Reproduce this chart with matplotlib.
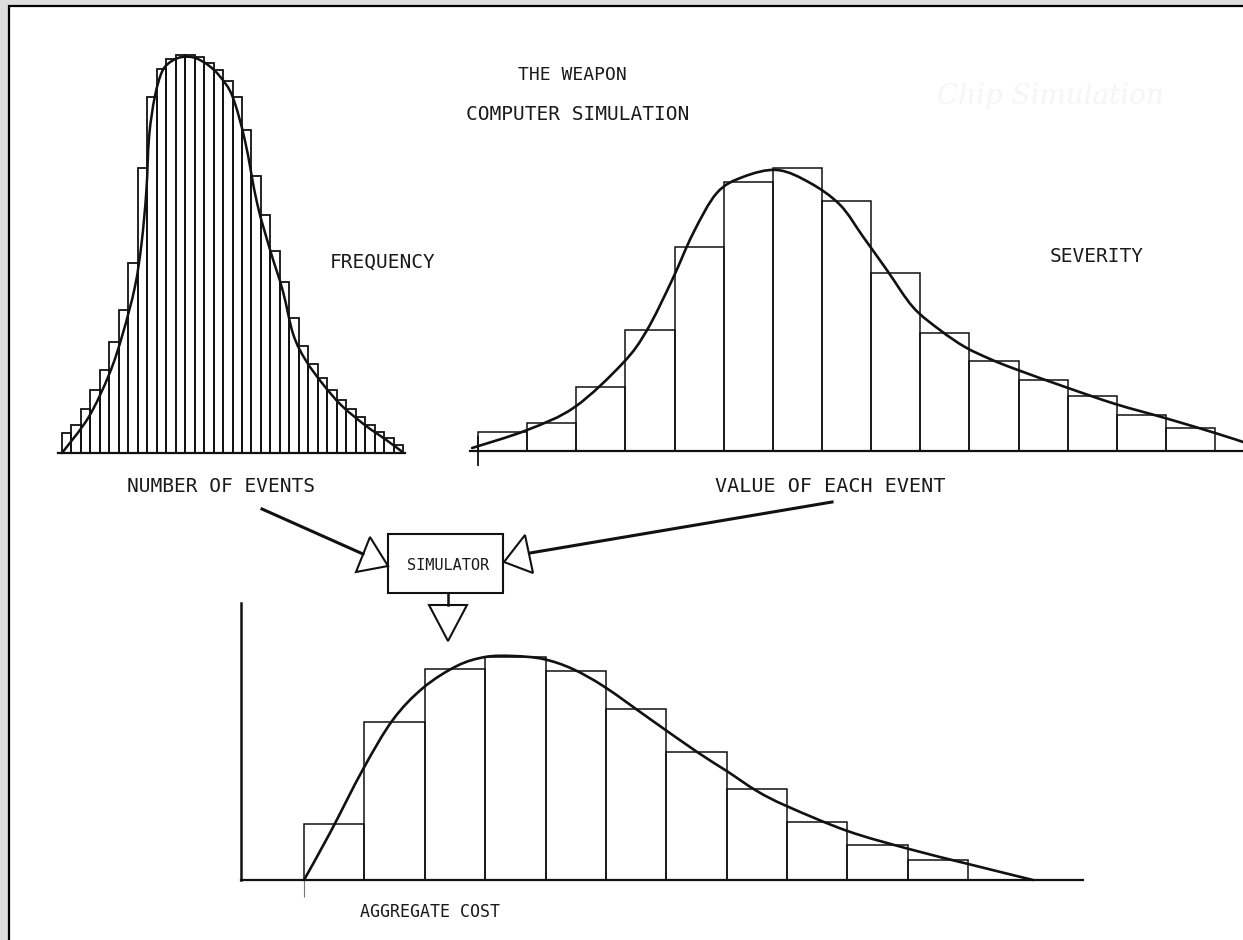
import numpy as np
import matplotlib
matplotlib.use("Agg")
import matplotlib.pyplot as plt
from matplotlib.patches import Rectangle, Polygon, PathPatch
from matplotlib.path import Path

W, H = 1243, 940
FONT = "DejaVu Sans Mono"
INK = "#111111"

# frequency histogram (number of events), heights relative to peak = 100
freq_bars = [5, 7, 11, 16, 21, 28, 36, 48, 72, 90, 97, 99.5, 100.5, 100.5, 100, 98.5,
             96.6, 94, 90, 81.5, 70, 60, 51, 43.3, 34, 27, 22.5, 19, 16, 13.4, 11, 9,
             7, 5.3, 3.7, 2]
freq_curve_x = [0, 2.8, 5.0, 6.4, 7.7, 8.4, 8.9, 9.2, 9.8, 10.6, 11.6, 12.7, 14.0, 15.4,
                16.7, 18.0, 19.3, 20.6, 22.0, 23.3, 24.4, 25.7, 27.5, 29.5, 32.0, 34.1, 35.8]
freq_curve_y = [0, 9, 20, 30, 42, 53, 66, 80, 90, 96.5, 99, 100, 99.8, 98, 95, 90, 79,
                63, 51, 41, 30, 23.5, 17.5, 12, 7, 3.5, 0.5]

# severity histogram (value of each event)
sev_bars = [19, 28, 64, 121, 204, 269, 283, 250, 178, 118, 90, 71, 55, 36, 23]
sev_curve_x = [-0.12, 1.0, 1.97, 2.95, 3.44, 3.95, 4.38, 4.86, 5.39, 6.09, 6.76, 7.37,
               7.84, 8.32, 8.85, 9.40, 9.91, 10.42, 10.93, 11.95, 12.97, 13.98, 15.0, 15.57]
sev_curve_y = [3, 21, 44, 88, 121, 171, 218, 258, 274, 281, 268, 246, 214, 181, 144,
               121, 104, 92, 82, 64, 47, 33, 18, 9]

# aggregate cost histogram
agg_bars = [56, 158, 211, 223, 209, 171, 128, 91, 58, 35, 20]
agg_curve_x = [0, 0.43, 0.98, 1.47, 1.97, 2.53, 3.0, 3.46, 3.96, 4.45, 4.98, 5.73, 6.51,
               7.0, 7.5, 7.99, 9.0, 10.02, 11.0, 12.07]
agg_curve_y = [0, 47, 111, 160, 192, 214, 223, 224, 221, 211, 193, 161, 128, 109, 89,
               74, 49, 31, 16, 0]

fig = plt.figure(figsize=(W / 100, H / 100), dpi=100, facecolor="#dedede")


def px_axes(x0, y0, x1, y1, z=1):
    return fig.add_axes([x0 / W, 1 - y1 / H, (x1 - x0) / W, (y1 - y0) / H], zorder=z)


def smooth_curve(ax, xs, ys, lw):
    # hand-drawn look: pass a smooth bezier through the read points
    p = np.column_stack([xs, ys]).astype(float)
    ext = np.vstack([p[0], p, p[-1]])
    verts, codes = [p[0]], [Path.MOVETO]
    for i in range(1, len(ext) - 2):
        c1 = ext[i] + (ext[i + 1] - ext[i - 1]) / 6
        c2 = ext[i + 1] - (ext[i + 2] - ext[i]) / 6
        verts += [c1, c2, ext[i + 1]]
        codes += [Path.CURVE4] * 3
    ax.add_patch(PathPatch(Path(verts, codes), facecolor="none", edgecolor=INK, lw=lw,
                           capstyle="round", clip_on=False, zorder=3))


# page with scanned frame on the left/top
page = px_axes(0, 0, W, H, z=0)
page.set_xlim(0, W)
page.set_ylim(H, 0)
page.axis("off")
page.add_patch(Rectangle((9, 6), W + 20, H + 20, facecolor="white", edgecolor="black", lw=1.6))
page.text(1050, 97, "Chip Simulation", family="DejaVu Serif", style="italic",
          fontsize=20, color="#f5f5f5", ha="center", va="center")


def hist_panel(ax, bars, cx, cy, bar_lw, curve_lw):
    ax.bar(np.arange(len(bars)), bars, width=1, align="edge", facecolor="none",
           edgecolor=INK, linewidth=bar_lw, clip_on=False, zorder=2)
    smooth_curve(ax, cx, cy, curve_lw)
    ax.patch.set_alpha(0)
    for s in ("top", "right", "left"):
        ax.spines[s].set_visible(False)
    ax.spines["bottom"].set_linewidth(1.6)
    ax.spines["bottom"].set_color(INK)
    ax.set_yticks([])


# FREQUENCY
ax1 = px_axes(58, 57, 405, 453, z=2)
hist_panel(ax1, freq_bars, freq_curve_x, freq_curve_y, 1.3, 1.8)
ax1.set_xlim(-0.42, 36.2)
ax1.set_ylim(0, 100)
ax1.set_xticks([])

# SEVERITY
ax2 = px_axes(470, 151, 1250, 451, z=2)
hist_panel(ax2, sev_bars, sev_curve_x, sev_curve_y, 1.1, 1.9)
ax2.set_xlim(-0.163, 15.71)
ax2.set_ylim(0, 300)
ax2.set_xticks([0])
ax2.set_xticklabels([])
ax2.tick_params(axis="x", direction="inout", length=22, width=1.3, color=INK)

# AGGREGATE
ax3 = px_axes(241, 603, 1083, 880, z=2)
hist_panel(ax3, agg_bars, agg_curve_x, agg_curve_y, 1.1, 1.9)
ax3.spines["left"].set_visible(True)
ax3.spines["left"].set_linewidth(1.8)
ax3.spines["left"].set_color(INK)
ax3.set_xlim(-1.043, 12.9)
ax3.set_ylim(0, 277)
ax3.set_xticks([0])
ax3.set_xticklabels([])
ax3.tick_params(axis="x", direction="out", length=12, width=0.8, color="#777777")

# diagram overlay: labels, simulator box, arrows
ov = px_axes(0, 0, W, H, z=3)
ov.set_xlim(0, W)
ov.set_ylim(H, 0)
ov.axis("off")

txt = dict(family=FONT, color="#1a1a1a", ha="center", va="center")
ov.text(572, 75, "THE WEAPON", fontsize=13, **txt)
ov.text(578, 115, "COMPUTER SIMULATION", fontsize=14, **txt)
ov.text(383, 262, "FREQUENCY", fontsize=14, **txt)
ov.text(1097, 257, "SEVERITY", fontsize=14, **txt)
ov.text(221, 487, "NUMBER OF EVENTS", fontsize=14, **txt)
ov.text(830, 487, "VALUE OF EACH EVENT", fontsize=14.5, **txt)
ov.text(448, 565, "SIMULATOR", fontsize=11, **txt)
ov.text(430, 912, "AGGREGATE COST", fontsize=12, **txt)

ov.add_patch(Rectangle((388, 534), 115, 59, facecolor="white", edgecolor=INK, lw=1.5))
ov.plot([262, 363], [509, 554], color=INK, lw=2.2)
ov.plot([832, 530], [502, 553], color=INK, lw=2.2)
ov.plot([448, 448], [593, 605], color=INK, lw=1.8)
ov.add_patch(Polygon([(370, 537), (356, 572), (388, 566)], closed=True,
                     facecolor="white", edgecolor=INK, lw=1.5))
ov.add_patch(Polygon([(525, 535), (533, 573), (504, 562)], closed=True,
                     facecolor="white", edgecolor=INK, lw=1.5))
ov.add_patch(Polygon([(429, 605), (467, 605), (448, 641)], closed=True,
                     facecolor="white", edgecolor=INK, lw=1.5))

fig.savefig("out.png", dpi=100, facecolor=fig.get_facecolor())
